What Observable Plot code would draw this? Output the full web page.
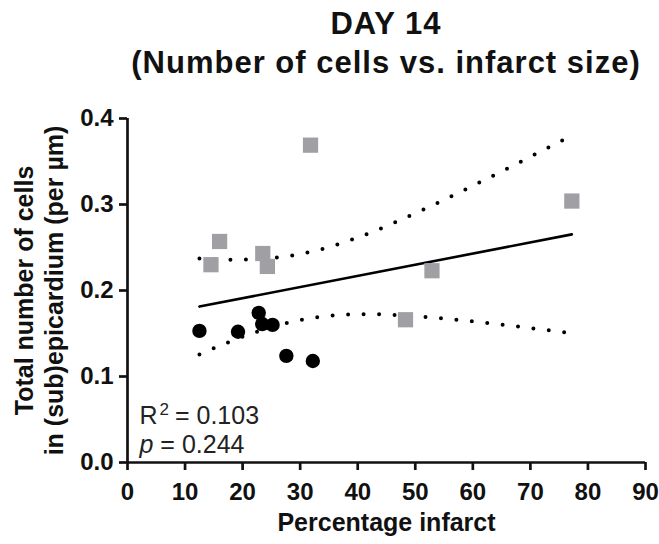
<!DOCTYPE html>
<html><head><meta charset="utf-8">
<script src="https://cdn.jsdelivr.net/npm/d3@7"></script>
<script src="https://cdn.jsdelivr.net/npm/@observablehq/plot@0.6"></script>
<style>
body{margin:0;background:#fff;font-family:"Liberation Sans",Arial,sans-serif;}
#title{margin-left:127px;width:518px;height:100px;text-align:center;font-weight:bold;font-size:31px;letter-spacing:1px;line-height:39px;padding-top:4px;box-sizing:border-box;color:#111;white-space:nowrap;}
svg{display:block;}
svg text{font-family:"Liberation Sans",Arial,sans-serif;}
g[aria-label="x-axis tick label"] text, g[aria-label="y-axis tick label"] text{font-size:24px;font-weight:bold;fill:#111;}
g[aria-label="x-axis tick"], g[aria-label="x-axis tick"] *, g[aria-label="y-axis tick"], g[aria-label="y-axis tick"] *{stroke-width:2.7px;stroke:#111;}
</style></head>
<body>
<div id="title">DAY 14<br>(Number of cells vs. infarct size)</div>
<div id="chart"></div>
<script>
// Data
const squaresX = [14.5, 16.0, 23.5, 24.3, 31.8, 48.3, 52.9, 77.2];
const squaresY = [0.230, 0.257, 0.243, 0.228, 0.369, 0.166, 0.223, 0.304];
const circlesX = [12.5, 19.2, 22.8, 23.4, 25.2, 27.6, 32.2];
const circlesY = [0.153, 0.152, 0.174, 0.161, 0.160, 0.124, 0.118];
const xTicks = [0, 10, 20, 30, 40, 50, 60, 70, 80, 90];
const yTicks = [0.0, 0.1, 0.2, 0.3, 0.4];
const statR2 = "0.103";
const statP = "0.244";
const xLabel = "Percentage infarct";
const yLabel1 = "Total number of cells";
const yLabel2 = "in (sub)epicardium (per µm)";
const T975 = 2.160; // Student t, 95% two-sided, df = n - 2 = 13

const squares = squaresX.map((x, i) => ({x, y: squaresY[i]}));
const circles = circlesX.map((x, i) => ({x, y: circlesY[i]}));
const all = squares.concat(circles);

// Linear regression with 95% confidence band of the mean
const n = all.length;
const mx = d3.mean(all, d => d.x), my = d3.mean(all, d => d.y);
const sxx = d3.sum(all, d => (d.x - mx) ** 2);
const sxy = d3.sum(all, d => (d.x - mx) * (d.y - my));
const slope = sxy / sxx, icpt = my - slope * mx;
const sse = d3.sum(all, d => (d.y - icpt - slope * d.x) ** 2);
const s = Math.sqrt(sse / (n - 2));
const [x0, x1] = d3.extent(all, d => d.x);
const fit = [x0, x1].map(x => ({x, y: icpt + slope * x}));
const grid = d3.range(0, 201).map(i => x0 + (x1 - x0) * i / 200);
const band = grid.map(x => {
  const yh = icpt + slope * x;
  const h = T975 * s * Math.sqrt(1 / n + (x - mx) ** 2 / sxx);
  return {x, lo: yh - h, hi: yh + h};
});

const plot = Plot.plot({
  width: 659,
  height: 444,
  marginTop: 18,
  marginBottom: 82,
  marginLeft: 127,
  marginRight: 14,
  style: {fontFamily: "Liberation Sans, Arial, sans-serif", background: "#fff"},
  x: {domain: [0, 90], ticks: xTicks, tickSize: 8, tickPadding: 12, label: null},
  y: {domain: [0, 0.4], ticks: yTicks, tickSize: 8, tickPadding: 6, tickFormat: d3.format(".1f"), label: null},
  marks: [
    Plot.line(band, {x: "x", y: "hi", stroke: "#000", strokeWidth: 4, strokeDasharray: "0 15.5", strokeLinecap: "round"}),
    Plot.line(band, {x: "x", y: "lo", stroke: "#000", strokeWidth: 4, strokeDasharray: "0 15.5", strokeLinecap: "round"}),
    Plot.line(fit, {x: "x", y: "y", stroke: "#000", strokeWidth: 2.6}),
    Plot.dot(squares, {x: "x", y: "y", symbol: "square", r: 8.6, fill: "#a0a0a4", stroke: "none"}),
    Plot.dot(circles, {x: "x", y: "y", symbol: "circle", r: 7.2, fill: "#000", stroke: "none"}),
    Plot.ruleX([0], {stroke: "#111", strokeWidth: 2.7}),
    Plot.ruleY([0], {stroke: "#111", strokeWidth: 2.7}),
    Plot.text([xLabel], {frameAnchor: "bottom", lineAnchor: "bottom", dy: 68, fontSize: 25, fontWeight: "bold", fill: "#111"}),
    Plot.text([yLabel1], {frameAnchor: "left", textAnchor: "middle", lineAnchor: "bottom", rotate: -90, dx: -95, fontSize: 25, fontWeight: "bold", fill: "#111"}),
    Plot.text([yLabel2], {frameAnchor: "left", textAnchor: "middle", lineAnchor: "bottom", rotate: -90, dx: -65, fontSize: 25, fontWeight: "bold", fill: "#111"}),
    Plot.text(["R2 = " + statR2], {frameAnchor: "bottom-left", textAnchor: "start", lineAnchor: "bottom", dx: 12, dy: -39, fontSize: 25, fill: "#222"}),
    Plot.text(["p = " + statP], {frameAnchor: "bottom-left", textAnchor: "start", lineAnchor: "bottom", dx: 12, dy: -9.5, fontSize: 25, fill: "#222"})
  ]
});

// Superscript and italic formatting of the statistics
const ns = "http://www.w3.org/2000/svg";
plot.querySelectorAll("text").forEach(t => {
  if (t.textContent === "R2 = " + statR2) {
    t.textContent = "";
    const a = document.createElementNS(ns, "tspan"); a.textContent = "R";
    const b = document.createElementNS(ns, "tspan"); b.textContent = "2"; b.setAttribute("dy", "-9"); b.setAttribute("dx", "2"); b.setAttribute("font-size", "17");
    const c = document.createElementNS(ns, "tspan"); c.textContent = " = " + statR2; c.setAttribute("dy", "9"); c.setAttribute("dx", "-1");
    t.append(a, b, c);
  } else if (t.textContent === "p = " + statP) {
    t.textContent = "";
    const a = document.createElementNS(ns, "tspan"); a.textContent = "p"; a.setAttribute("font-style", "italic");
    const c = document.createElementNS(ns, "tspan"); c.textContent = " = " + statP;
    t.append(a, c);
  }
});
document.getElementById("chart").append(plot);
</script>
</body></html>
